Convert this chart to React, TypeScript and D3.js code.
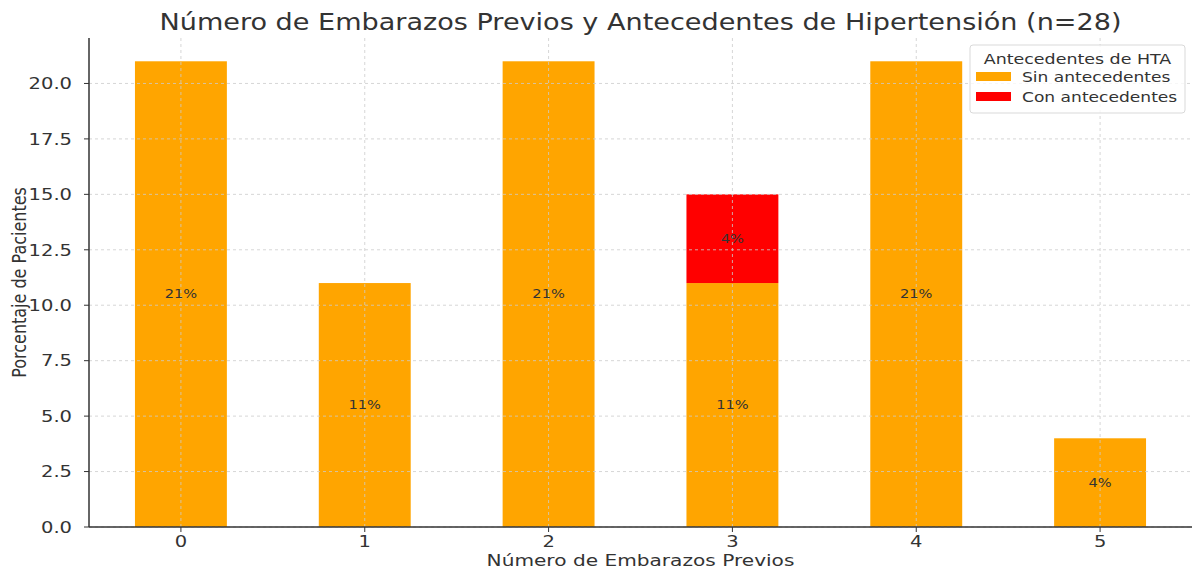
import * as d3 from "d3";

const categories = ["0", "1", "2", "3", "4", "5"];
const sinAntecedentes = [21, 11, 21, 11, 21, 4];
const conAntecedentes = [0, 0, 0, 4, 0, 0];
const sinLabels = ["21%", "11%", "21%", "11%", "21%", "4%"];
const conLabels = ["", "", "", "4%", "", ""];
const yTicks = [0, 2.5, 5, 7.5, 10, 12.5, 15, 17.5, 20];

const colors = { sin: "#FFA500", con: "#FF0000", text: "#333333", grid: "#cccccc" };

const W = 1196;
const H = 571;
const margin = { top: 38, right: 4, bottom: 44, left: 89 };
const FONT = "DejaVu Sans, sans-serif";
// the picture is stretched sideways, so text is widened to match
const SX = 1.22;

// text helper: puts the anchor at (x, y) and stretches the glyphs horizontally
const T = ({ x, y, children, ...rest }: any) => (
  <text transform={`translate(${x},${y}) scale(${SX},1)`} fill={colors.text} {...rest}>
    {children}
  </text>
);

export default function App() {
  const x = d3
    .scaleLinear()
    .domain([-0.5, categories.length - 0.5])
    .range([margin.left, W - margin.right]);
  const y = d3
    .scaleLinear()
    .domain([0, 22.05])
    .range([H - margin.bottom, margin.top]);
  const barW = x(0.5) - x(0);

  const stacked = categories.map((c, i) => ({
    cat: c,
    i,
    sin: sinAntecedentes[i],
    con: conAntecedentes[i],
  }));

  const x0 = margin.left;
  const x1 = W - margin.right;
  const yBottom = y(0);
  const yTop = margin.top;

  return (
    <svg
      width={W}
      height={H}
      style={{ position: "absolute", left: 0, top: 0, background: "#fff" }}
      fontFamily={FONT}
    >
      {/* bars */}
      {stacked.map((d) => (
        <g key={d.cat}>
          <rect
            x={x(d.i) - barW / 2}
            y={y(d.sin)}
            width={barW}
            height={y(0) - y(d.sin)}
            fill={colors.sin}
          />
          {d.con > 0 && (
            <rect
              x={x(d.i) - barW / 2}
              y={y(d.sin + d.con)}
              width={barW}
              height={y(d.sin) - y(d.sin + d.con)}
              fill={colors.con}
            />
          )}
        </g>
      ))}

      {/* grid on top of bars */}
      {yTicks.map((t) => (
        <line
          key={"gy" + t}
          x1={x0}
          x2={x1}
          y1={y(t)}
          y2={y(t)}
          stroke={colors.grid}
          strokeWidth={0.8}
          strokeDasharray="3,3"
        />
      ))}
      {categories.map((c, i) => (
        <line
          key={"gx" + c}
          x1={x(i)}
          x2={x(i)}
          y1={yTop}
          y2={yBottom}
          stroke={colors.grid}
          strokeWidth={0.8}
          strokeDasharray="3,3"
        />
      ))}

      {/* value labels */}
      {stacked.map((d) => (
        <g key={"l" + d.cat}>
          <T x={x(d.i)} y={y(d.sin / 2)} dy="0.35em" fontSize={12} textAnchor="middle">
            {sinLabels[d.i]}
          </T>
          {d.con > 0 && (
            <T x={x(d.i)} y={y(d.sin + d.con / 2)} dy="0.35em" fontSize={12} textAnchor="middle">
              {conLabels[d.i]}
            </T>
          )}
        </g>
      ))}

      {/* spines */}
      <line x1={x0} x2={x0} y1={yTop} y2={yBottom} stroke={colors.text} strokeWidth={1.5} />
      <line x1={x0} x2={x1} y1={yBottom} y2={yBottom} stroke={colors.text} strokeWidth={1.5} />

      {/* y ticks */}
      {yTicks.map((t) => (
        <g key={"ty" + t}>
          <line x1={x0 - 5} x2={x0} y1={y(t)} y2={y(t)} stroke={colors.text} strokeWidth={1} />
          <T x={x0 - 17} y={y(t)} dy="0.36em" textAnchor="end" fontSize={16}>
            {d3.format(".1f")(t)}
          </T>
        </g>
      ))}

      {/* x ticks */}
      {categories.map((c, i) => (
        <g key={"tx" + c}>
          <line x1={x(i)} x2={x(i)} y1={yBottom} y2={yBottom + 5} stroke={colors.text} strokeWidth={1} />
          <T x={x(i)} y={yBottom + 20} textAnchor="middle" fontSize={16}>
            {c}
          </T>
        </g>
      ))}

      {/* axis labels */}
      <T x={(x0 + x1) / 2} y={566} textAnchor="middle" fontSize={16.5}>
        Número de Embarazos Previos
      </T>
      <text
        transform={`translate(26,${(yTop + yBottom) / 2}) rotate(-90) scale(1,${SX})`}
        textAnchor="middle"
        fontSize={16}
        fill={colors.text}
      >
        Porcentaje de Pacientes
      </text>

      {/* title */}
      <T x={(x0 + x1) / 2} y={30} textAnchor="middle" fontSize={22.2}>
        Número de Embarazos Previos y Antecedentes de Hipertensión (n=28)
      </T>

      {/* legend */}
      <g transform="translate(970,45)">
        <rect x={0} y={0} width={215} height={68} rx={3} fill="#fff" fillOpacity={0.8} stroke="#d9d9d9" />
        <T x={107.5} y={19} textAnchor="middle" fontSize={14.3}>
          Antecedentes de HTA
        </T>
        <rect x={6} y={27} width={35} height={9} fill={colors.sin} />
        <T x={52} y={37} fontSize={14}>
          Sin antecedentes
        </T>
        <rect x={6} y={47} width={35} height={9} fill={colors.con} />
        <T x={52} y={57} fontSize={14}>
          Con antecedentes
        </T>
      </g>
    </svg>
  );
}
